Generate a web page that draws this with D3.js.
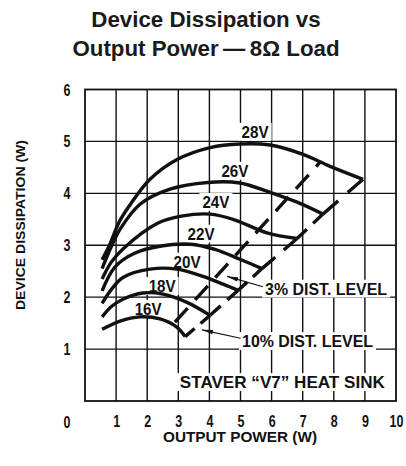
<!DOCTYPE html>
<html>
<head>
<meta charset="utf-8">
<script src="https://cdn.jsdelivr.net/npm/d3@7/dist/d3.min.js"></script>
<style>
  html, body { margin: 0; padding: 0; background: #fff; }
  svg { display: block; }
  .cond { font-family: 'Liberation Sans', Arial, Helvetica, sans-serif; font-weight: bold; fill: #111; }
</style>
</head>
<body>
<svg id="chart" width="406" height="466"></svg>
<script>
// ---------- data ----------
const voltages = ["28V", "26V", "24V", "22V", "20V", "18V", "16V"];
const curve28V = [[0.55,2.72],[0.80,3.02],[1.10,3.45],[1.45,3.78],[2.09,4.27],[2.96,4.65],[4.02,4.88],[4.98,4.95],[5.95,4.93],[7.01,4.75],[7.88,4.52],[8.94,4.27]];
const curve26V = [[0.55,2.55],[0.85,2.98],[1.13,3.31],[1.77,3.79],[2.73,4.08],[3.95,4.21],[4.98,4.20],[5.95,4.02],[6.82,3.83],[7.65,3.60]];
const curve24V = [[0.55,2.35],[0.85,2.68],[1.22,2.93],[2.32,3.42],[3.10,3.56],[4.02,3.60],[4.76,3.50],[5.85,3.24],[6.82,3.13]];
const curve22V = [[0.55,2.12],[0.96,2.58],[1.61,2.85],[2.41,2.98],[3.38,3.02],[4.18,2.92],[4.98,2.73],[5.69,2.55]];
const curve20V = [[0.55,1.88],[0.85,2.15],[1.22,2.38],[2.09,2.54],[2.96,2.54],[3.79,2.40],[4.44,2.25],[4.92,2.13]];
const curve18V = [[0.55,1.62],[0.85,1.82],[1.22,1.96],[1.86,2.08],[2.51,2.06],[3.28,1.90],[4.02,1.65]];
const curve16V = [[0.55,1.38],[1.13,1.54],[1.77,1.62],[2.41,1.58],[2.96,1.42],[3.22,1.24]];
const curves = [curve28V, curve26V, curve24V, curve22V, curve20V, curve18V, curve16V];
// label anchors (power W, dissipation W) — baseline centre
const voltageLabelAt = [[5.47,5.07],[4.82,4.32],[4.21,3.72],[3.73,3.11],[3.28,2.57],[2.48,2.10],[2.03,1.66]];
const dist3Line = [[7.56,4.60],[2.80,1.46]];
const xTickValues = [1,2,3,4,5,6,7,8,9,10];
const xTickLabels = ["1","2","3","4","5","6","7","8","9","10"];
const yTickValues = [1,2,3,4,5,6];
const yTickLabels = ["1","2","3","4","5","6"];
const originLabel = "0";
const titleLines = ["Device Dissipation vs", "Output Power\u2009\u2014\u20098\u03A9 Load"];
const xTitle = "OUTPUT POWER (W)";
const yTitle = "DEVICE DISSIPATION (W)";
const notes = [
  {text: "3% DIST. LEVEL", at: [5.79, 2.05], len: 122, arrowFrom: [5.72, 2.20], arrowTo: [4.57, 2.40]},
  {text: "10% DIST. LEVEL", at: [5.05, 1.04], len: 131, arrowFrom: [5.00, 1.21], arrowTo: [3.76, 1.37]},
  {text: "STAVER \u201CV7\u201D HEAT SINK", at: [3.05, 0.25], len: 205}
];

// ---------- layout ----------
const svg = d3.select("#chart");
const x = d3.scaleLinear().domain([0, 10]).range([85, 396]);
const y = d3.scaleLinear().domain([0, 6]).range([401, 89.5]);

// title
svg.append("g").selectAll("text").data(titleLines).join("text")
  .attr("x", 206).attr("y", (d, i) => 27 + i * 28.5)
  .attr("text-anchor", "middle")
  .style("font-family", "'Liberation Sans', Arial, Helvetica, sans-serif")
  .style("font-weight", "bold").style("font-size", "22.3px").style("fill", "#1a1a1a")
  .text(d => d);

// axes tick labels via d3 axes (domain/ticks hidden)
const xAxis = d3.axisBottom(x).tickValues(xTickValues).tickFormat((d, i) => xTickLabels[i]).tickSize(0).tickPadding(0);
const gx = svg.append("g").attr("transform", "translate(0,427)").call(xAxis);
const yAxis = d3.axisLeft(y).tickValues(yTickValues).tickFormat((d, i) => yTickLabels[i]).tickSize(0).tickPadding(0);
const gy = svg.append("g").attr("transform", "translate(67,0)").call(yAxis);
[gx, gy].forEach(g => {
  g.select(".domain").remove();
  g.selectAll(".tick line").remove();
  g.selectAll("text").attr("class", "cond").style("font-size", "16px").attr("fill", "#111")
    .attr("text-anchor", "middle").attr("x", 0).attr("dy", null).attr("y", 0)
    .attr("transform", "scale(0.78,1)");
});
gy.selectAll("text").attr("y", 5.5);
svg.append("text").attr("class", "cond").attr("text-anchor", "middle")
  .attr("transform", "translate(67,427.5) scale(0.78,1)")
  .style("font-size", "16px").text(originLabel);

// axis titles
svg.append("text").attr("class", "cond").attr("x", 240).attr("y", 442)
  .attr("text-anchor", "middle").style("font-size", "14px")
  .attr("textLength", 154).attr("lengthAdjust", "spacingAndGlyphs").text(xTitle);
svg.append("text").attr("class", "cond")
  .attr("transform", "translate(25,225) rotate(-90)")
  .attr("text-anchor", "middle").style("font-size", "13.5px")
  .attr("textLength", 170).attr("lengthAdjust", "spacingAndGlyphs").text(yTitle);

// grid as one path, plus the frame
const gridPath = d3.path();
xTickValues.slice(0, -1).forEach(v => { gridPath.moveTo(x(v), y(6)); gridPath.lineTo(x(v), y(0)); });
yTickValues.slice(0, -1).forEach(v => { gridPath.moveTo(x(0), y(v)); gridPath.lineTo(x(10), y(v)); });
svg.append("path").attr("class", "grid").attr("d", gridPath.toString())
  .attr("fill", "none").attr("stroke", "#111").attr("stroke-width", 1.4);
svg.append("rect").attr("x", x(0)).attr("y", y(6)).attr("width", x(10) - x(0)).attr("height", y(0) - y(6))
  .attr("fill", "none").attr("stroke", "#111").attr("stroke-width", 1.8);

// labels with white backgrounds (box sized from the fixed text length)
function boxedText(g, px, py, str, size, len, anchor) {
  const left = anchor === "middle" ? px - len / 2 : px;
  const cap = size * 0.72;
  g.append("rect").attr("x", left - 3).attr("y", py - cap - 3)
    .attr("width", len + 6).attr("height", cap + 6).attr("fill", "#fff");
  g.append("text").attr("class", "cond").attr("x", px).attr("y", py)
    .attr("text-anchor", anchor).style("font-size", size + "px")
    .attr("textLength", len).attr("lengthAdjust", "spacingAndGlyphs").text(str);
}
const labels = svg.append("g");
voltages.forEach((v, i) => {
  boxedText(labels.append("g"), x(voltageLabelAt[i][0]), y(voltageLabelAt[i][1]), v, 16.5, 27, "middle");
});
notes.forEach(n => {
  boxedText(labels.append("g"), x(n.at[0]), y(n.at[1]), n.text, 16.5, n.len, "start");
});

// curves
const curveGen = d3.line().x(d => x(d[0])).y(d => y(d[1])).curve(d3.curveCatmullRom.alpha(0.5));
svg.append("g").selectAll("path").data(curves).join("path")
  .attr("d", curveGen).attr("fill", "none").attr("stroke", "#111")
  .attr("stroke-width", 3.4).attr("stroke-linejoin", "miter").attr("stroke-linecap", "butt");

// 10% distortion line: joins curve end points, dash - gap - dash between each pair
const ends = curves.map(c => c[c.length - 1]);
const tenG = svg.append("g");
for (let i = 0; i < ends.length - 1; i++) {
  const a = ends[i], b = ends[i + 1];
  const L = Math.hypot(x(a[0]) - x(b[0]), y(a[1]) - y(b[1]));
  tenG.append("line")
    .attr("x1", x(a[0])).attr("y1", y(a[1])).attr("x2", x(b[0])).attr("y2", y(b[1]))
    .attr("stroke", "#111").attr("stroke-width", 3.4)
    .attr("stroke-dasharray", `${L * 0.38} ${L * 0.24} ${L * 0.38}`);
}

// 3% distortion line
svg.append("line")
  .attr("x1", x(dist3Line[0][0])).attr("y1", y(dist3Line[0][1]))
  .attr("x2", x(dist3Line[1][0])).attr("y2", y(dist3Line[1][1]))
  .attr("stroke", "#111").attr("stroke-width", 3.4)
  .attr("stroke-dasharray", "19 11").attr("stroke-dashoffset", 13);

// leader arrows
notes.filter(n => n.arrowFrom).forEach(n => {
  const x1 = x(n.arrowFrom[0]), y1 = y(n.arrowFrom[1]);
  const x2 = x(n.arrowTo[0]), y2 = y(n.arrowTo[1]);
  const ang = Math.atan2(y2 - y1, x2 - x1);
  svg.append("line").attr("x1", x1).attr("y1", y1).attr("x2", x2).attr("y2", y2)
    .attr("stroke", "#111").attr("stroke-width", 1.1);
  const hl = 11, hw = 2.2;
  const bx = x2 - hl * Math.cos(ang), by = y2 - hl * Math.sin(ang);
  const pts = [[x2, y2], [bx + hw * Math.sin(ang), by - hw * Math.cos(ang)], [bx - hw * Math.sin(ang), by + hw * Math.cos(ang)]];
  svg.append("path").attr("d", "M" + pts.map(p => p.join(",")).join("L") + "Z").attr("fill", "#111");
});
</script>
</body>
</html>
